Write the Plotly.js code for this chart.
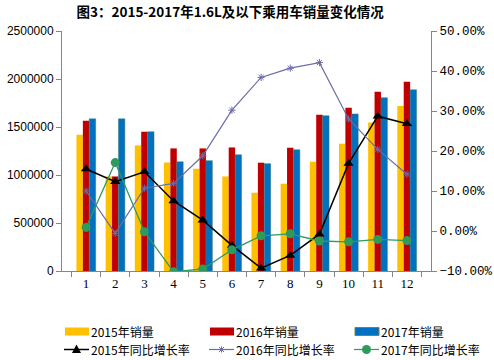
<!DOCTYPE html>
<html>
<head>
<meta charset="utf-8">
<script src="https://cdn.plot.ly/plotly-3.0.1.min.js"></script>
<style>html,body{margin:0;padding:0;background:#fff;}#chart{width:494px;height:360px;}</style>
</head>
<body>
<div id="chart"></div>
<script>
var months = ['1','2','3','4','5','6','7','8','9','10','11','12'];
var sales2015 = [1420000, 985000, 1308000, 1130000, 1065000, 985000, 815000, 909000, 1138000, 1326000, 1547000, 1720000];
var sales2016 = [1566000, 985000, 1450000, 1277000, 1277000, 1287000, 1128000, 1284000, 1628000, 1700000, 1868000, 1972000];
var sales2017 = [1585000, 1585000, 1450000, 1138000, 1149000, 1211000, 1118000, 1263000, 1617000, 1636000, 1805000, 1888000];
var growth2015 = [15.5, 12.3, 14.8, 7.5, 2.7, -3.6, -9.3, -6.1, -0.8, 16.9, 28.7, 26.8];
var growth2016 = [10.0, -0.6, 10.7, 11.9, 18.8, 30.2, 38.4, 40.7, 42.1, 28.0, 20.4, 14.2];
var growth2017 = [0.9, 17.1, -0.2, -10.2, -9.5, -4.7, -1.2, -0.7, -2.5, -2.7, -2.1, -2.4];

var names = ['2015年销量','2016年销量','2017年销量','2015年同比增长率','2016年同比增长率','2017年同比增长率'];
var colors = ['#FFC000','#C00000','#0070C0','#000000','#6B6BA8','#2E9A5E'];

var traces = [
  {type:'bar', x:months, y:sales2015, name:names[0], marker:{color:colors[0]}},
  {type:'bar', x:months, y:sales2016, name:names[1], marker:{color:colors[1]}},
  {type:'bar', x:months, y:sales2017, name:names[2], marker:{color:colors[2], line:{color:'#3F7F6F', width:0.5}}},
  {type:'scatter', mode:'lines+markers', x:months, y:growth2015, yaxis:'y2', name:names[3],
   line:{color:colors[3], width:1.5}, marker:{symbol:'triangle-up', size:9, color:colors[3]}},
  {type:'scatter', mode:'lines+markers', x:months, y:growth2016, yaxis:'y2', name:names[4],
   line:{color:colors[4], width:1.2}, marker:{symbol:'asterisk', size:6, color:colors[4], line:{color:colors[4], width:1}}},
  {type:'scatter', mode:'lines+markers', x:months, y:growth2017, yaxis:'y2', name:names[5],
   line:{color:colors[5], width:1.3}, marker:{symbol:'circle', size:9, color:colors[5]}}
];

// manual legend (pixel geometry converted to paper coords)
var L = 62, R = 431, T = 31, B = 271;
function px(x){ return (x - L) / (R - L); }
function py(y){ return (B - y) / (B - T); }
var colX = [65, 210, 355];
var rowY = [331.5, 349.5];
var shapes = [], annotations = [];
var legendFont = {family:'Noto Sans CJK SC, sans-serif', size:12, color:'#000'};
for (var i = 0; i < 3; i++) {
  var x0 = colX[i];
  shapes.push({type:'rect', xref:'paper', yref:'paper', x0:px(x0), x1:px(x0+24), y0:py(rowY[0]+4), y1:py(rowY[0]-4),
               fillcolor:colors[i], line:{color: i===2 ? '#7F7F3F' : colors[i], width: i===2 ? 1 : 0}});
  annotations.push({xref:'paper', yref:'paper', x:px(x0+25), y:py(rowY[0]), xanchor:'left', yanchor:'middle',
                    text:names[i], showarrow:false, font:legendFont, borderpad:0});
  var c = colors[i+3];
  shapes.push({type:'line', xref:'paper', yref:'paper', x0:px(x0-1), x1:px(x0+24), y0:py(rowY[1]), y1:py(rowY[1]),
               line:{color:c, width: i===0 ? 1.5 : 1.2}});
  var cx = x0 + 11.5, cy = rowY[1];
  if (i === 0) {
    shapes.push({type:'path', xref:'paper', yref:'paper',
                 path:'M'+px(cx-4.5)+','+py(cy+3.5)+' L'+px(cx+4.5)+','+py(cy+3.5)+' L'+px(cx)+','+py(cy-5)+' Z',
                 fillcolor:c, line:{color:c, width:0}});
  } else if (i === 1) {
    shapes.push({type:'line', xref:'paper', yref:'paper', x0:px(cx-2.5), x1:px(cx+2.5), y0:py(cy-2.5), y1:py(cy+2.5), line:{color:c, width:1}});
    shapes.push({type:'line', xref:'paper', yref:'paper', x0:px(cx-2.5), x1:px(cx+2.5), y0:py(cy+2.5), y1:py(cy-2.5), line:{color:c, width:1}});
    shapes.push({type:'line', xref:'paper', yref:'paper', x0:px(cx), x1:px(cx), y0:py(cy-3), y1:py(cy+3), line:{color:c, width:1}});
  } else {
    shapes.push({type:'circle', xref:'paper', yref:'paper', x0:px(cx-4.5), x1:px(cx+4.5), y0:py(cy+4.5), y1:py(cy-4.5),
                 fillcolor:c, line:{color:c, width:0}});
  }
  annotations.push({xref:'paper', yref:'paper', x:px(x0+25), y:py(rowY[1]), xanchor:'left', yanchor:'middle',
                    text:names[i+3], showarrow:false, font:legendFont, borderpad:0});
}

var axisFont = {family:'Liberation Sans, Arial, sans-serif', size:12, color:'#000'};

var layout = {
  width:494, height:360,
  margin:{l:62, r:63, t:31, b:89, autoexpand:false},
  paper_bgcolor:'#fff', plot_bgcolor:'#fff',
  title:{text:'<b>图3：2015-2017年1.6L及以下乘用车销量变化情况</b>', x:0.466, xref:'container', y:0.965, yref:'container', yanchor:'middle',
         font:{family:'Noto Sans CJK SC, sans-serif', size:13.5, color:'#000'}},
  barmode:'group', bargap:0.34, bargroupgap:0,
  xaxis:{type:'category', showgrid:false, showline:true, linecolor:'#868686', linewidth:1,
         ticks:'outside', tickson:'boundaries', ticklen:5, tickcolor:'#868686',
         tickfont:{family:'Liberation Serif, serif', size:13, color:'#000'}},
  yaxis:{range:[0,2500000], dtick:500000, tickformat:'d', showgrid:false, zeroline:false,
         showline:true, linecolor:'#868686', linewidth:1, ticks:'outside', ticklen:5, tickcolor:'#868686',
         tickfont:axisFont},
  yaxis2:{overlaying:'y', side:'right', range:[-10,50], dtick:10, tickformat:'.2f', ticksuffix:'%',
          showgrid:false, zeroline:false, showline:true, linecolor:'#868686', linewidth:1,
          ticks:'outside', ticklen:5, tickcolor:'#868686', tickfont:{family:'Liberation Mono, monospace', size:12.5, color:'#000'}},
  showlegend:false,
  shapes:shapes,
  annotations:annotations
};

Plotly.newPlot('chart', traces, layout, {displayModeBar:false, staticPlot:true});
</script>
</body>
</html>
